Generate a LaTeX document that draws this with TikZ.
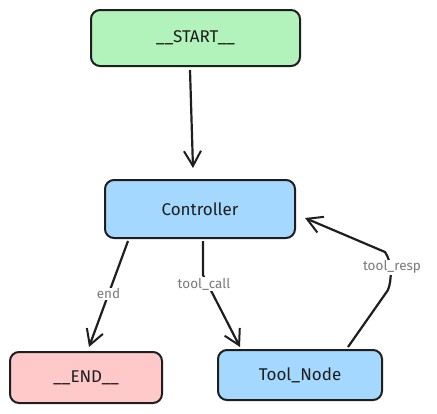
\documentclass[tikz,border=0pt]{standalone}
\usepackage{fontspec}
\setmainfont{Fira Sans}
\usetikzlibrary{arrows.meta}
\definecolor{startg}{HTML}{B2F2BB}
\definecolor{nodeb}{HTML}{A5D8FF}
\definecolor{endr}{HTML}{FFC9C9}
\definecolor{lblgray}{HTML}{7A7A7A}
\definecolor{ink}{HTML}{1E1E1E}
\tikzset{
  box/.style={draw=ink, line width=2pt, rounded corners=9pt, inner sep=0pt, font=\fontsize{17}{19}\selectfont, text=ink},
  conn/.style={draw=ink, line width=2.2pt, -{Straight Barb[length=15pt,width=17pt,line width=2pt]}},
  lbl/.style={font=\fontsize{13.5}{15}\selectfont, text=lblgray, fill=white, inner sep=1pt}
}
\begin{document}
\begin{tikzpicture}[x=1pt,y=-1pt]
\useasboundingbox (0,0) rectangle (437,413);
\node[box, fill=startg, minimum width=209pt, minimum height=56pt] (start) at (195.5,38) {\_\_START\_\_};
\node[box, fill=nodeb, minimum width=190pt, minimum height=58pt] (ctrl) at (200,209) {Controller};
\node[box, fill=endr, minimum width=152pt, minimum height=51pt] (end) at (86,377.5) {\_\_END\_\_};
\node[box, fill=nodeb, minimum width=164pt, minimum height=50pt] (tool) at (300,375) {Tool\_Node};
\coordinate (s1) at (190,70);
\coordinate (s2) at (193,168);
\draw[conn] (s1) -- (s2);
\coordinate (e1) at (128,241);
\coordinate (e2) at (89,347);
\draw[conn] (e1) -- node[lbl, pos=0.5] (lend) {end} (e2);
\coordinate (c1) at (203,241);
\coordinate (c2) at (240,347);
\draw[conn] (c1) -- (203,275) -- (c2);
\node[lbl] (lcall) at (204,284) {tool\_call};
\coordinate (r1) at (348,347);
\coordinate (r2) at (305,218);
\draw[conn] (r1) -- (388,290) .. controls (392,280) and (392,262) .. (385,252) -- (r2);
\node[lbl] (lresp) at (392,267) {tool\_resp};
\end{tikzpicture}
\end{document}
